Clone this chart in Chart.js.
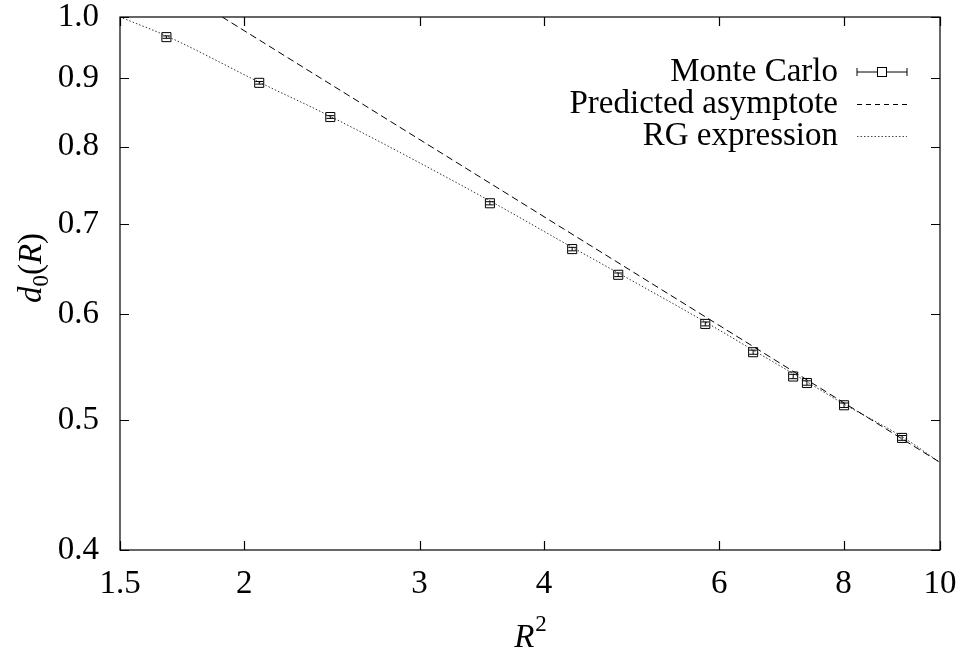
<!DOCTYPE html>
<html>
<head>
<meta charset="utf-8">
<script src="https://cdn.jsdelivr.net/npm/chart.js@4"></script>
<style>
  html, body { margin: 0; padding: 0; background: #fff; }
  #wrap { width: 962px; height: 654px; position: relative; }
</style>
</head>
<body>
<div id="wrap"><canvas id="chart"></canvas></div>
<script>
// Monte Carlo points (R^2, d0(R)) with tiny vertical errors
const mcX = [1.67, 2.07, 2.44, 3.53, 4.27, 4.75, 5.81, 6.49, 7.12, 7.35, 8.01, 9.16];
const mcY = [0.966, 0.893, 0.842, 0.726, 0.671, 0.642, 0.590, 0.562, 0.539, 0.533, 0.513, 0.485];
const mcErr = [0.002, 0.002, 0.002, 0.002, 0.002, 0.002, 0.002, 0.002, 0.002, 0.002, 0.002, 0.002];

// Predicted asymptote (straight in log-log)
const asymX = [1.90, 10];
const asymY = [1.0, 0.465];

// RG expression curve
const rgX = [1.51, 1.67, 2.07, 2.44, 3.53, 4.27, 4.75, 5.81, 6.49, 7.23, 8.01, 9.16, 10];
const rgY = [0.998, 0.968, 0.894, 0.843, 0.729, 0.673, 0.644, 0.592, 0.564, 0.538, 0.514, 0.486, 0.465];

// Axis ticks
const xTicks = [1.5, 2, 3, 4, 6, 8, 10];
const yTicks = [0.4, 0.5, 0.6, 0.7, 0.8, 0.9, 1.0];

const legendLabels = ['Monte Carlo', 'Predicted asymptote', 'RG expression'];

const FONT = "'Liberation Serif', 'DejaVu Serif', serif";
const FS = 33;

const toPts = (xs, ys) => xs.map((x, i) => ({ x: x, y: ys[i] }));

// Frame, inward ticks, error bars, legend and axis titles
const decorations = {
    id: 'decorations',
    afterDatasetsDraw(chart) {
        const ctx = chart.ctx;
        const xs = chart.scales.x, ys = chart.scales.y;
        const a = chart.chartArea;
        ctx.save();

        // error bars
        ctx.strokeStyle = '#000';
        ctx.lineWidth = 1;
        mcX.forEach((x, i) => {
            const px = xs.getPixelForValue(x);
            const top = ys.getPixelForValue(mcY[i] + mcErr[i]);
            const bot = ys.getPixelForValue(mcY[i] - mcErr[i]);
            ctx.beginPath();
            ctx.moveTo(px, top); ctx.lineTo(px, bot);
            ctx.moveTo(px - 4, top); ctx.lineTo(px + 4, top);
            ctx.moveTo(px - 4, bot); ctx.lineTo(px + 4, bot);
            ctx.stroke();
        });

        // frame
        ctx.lineWidth = 1.2;
        ctx.strokeRect(a.left, a.top, a.right - a.left, a.bottom - a.top);

        // inward ticks on all four sides
        const tl = 9;
        ctx.beginPath();
        xTicks.forEach(v => {
            const px = Math.round(xs.getPixelForValue(v)) + 0.5;
            ctx.moveTo(px, a.bottom); ctx.lineTo(px, a.bottom - tl);
            ctx.moveTo(px, a.top); ctx.lineTo(px, a.top + tl);
        });
        yTicks.forEach(v => {
            const py = Math.round(ys.getPixelForValue(v)) + 0.5;
            ctx.moveTo(a.left, py); ctx.lineTo(a.left + tl, py);
            ctx.moveTo(a.right, py); ctx.lineTo(a.right - tl, py);
        });
        ctx.stroke();

        // legend
        ctx.font = FS + 'px ' + FONT;
        ctx.fillStyle = '#000';
        ctx.textAlign = 'right';
        ctx.textBaseline = 'middle';
        const lx = 838, s0 = 857, s1 = 907;
        const rows = [72, 104, 136];
        legendLabels.forEach((t, i) => ctx.fillText(t, lx, rows[i]));

        ctx.lineWidth = 1;
        // Monte Carlo sample
        ctx.beginPath();
        ctx.moveTo(s0, rows[0]); ctx.lineTo(s1, rows[0]);
        ctx.moveTo(s0, rows[0] - 4); ctx.lineTo(s0, rows[0] + 4);
        ctx.moveTo(s1, rows[0] - 4); ctx.lineTo(s1, rows[0] + 4);
        ctx.stroke();
        ctx.fillStyle = '#fff';
        ctx.fillRect(877.5, rows[0] - 4.5, 9, 9);
        ctx.strokeRect(877.5, rows[0] - 4.5, 9, 9);
        // asymptote sample
        ctx.setLineDash([5, 4]);
        ctx.beginPath();
        ctx.moveTo(s0, rows[1] + 0.5); ctx.lineTo(s1, rows[1] + 0.5);
        ctx.stroke();
        // RG sample
        ctx.strokeStyle = '#444';
        ctx.setLineDash([1.5, 2]);
        ctx.beginPath();
        ctx.moveTo(s0, rows[2] + 0.5); ctx.lineTo(s1, rows[2] + 0.5);
        ctx.stroke();
        ctx.setLineDash([]);

        // x title: R^2
        ctx.fillStyle = '#000';
        ctx.textAlign = 'left';
        ctx.textBaseline = 'alphabetic';
        ctx.font = 'italic ' + FS + 'px ' + FONT;
        const rW = ctx.measureText('R').width;
        ctx.font = '23px ' + FONT;
        const twoW = ctx.measureText('2').width;
        let tx = (a.left + a.right) / 2 - (rW + twoW) / 2;
        ctx.font = 'italic ' + FS + 'px ' + FONT;
        ctx.fillText('R', tx, 647);
        ctx.font = '23px ' + FONT;
        ctx.fillText('2', tx + rW + 1, 631);

        // y title: d_0(R), rotated
        ctx.translate(41, 268);
        ctx.rotate(-Math.PI / 2);
        const parts = [
            { t: 'd', f: 'italic ' + FS + 'px ', dy: 0 },
            { t: '0', f: '23px ', dy: 7 },
            { t: '(', f: FS + 'px ', dy: 0 },
            { t: 'R', f: 'italic ' + FS + 'px ', dy: 0 },
            { t: ')', f: FS + 'px ', dy: 0 }
        ];
        let total = 0;
        parts.forEach(p => { ctx.font = p.f + FONT; p.w = ctx.measureText(p.t).width; total += p.w; });
        let cx = -total / 2;
        parts.forEach(p => {
            ctx.font = p.f + FONT;
            ctx.fillText(p.t, cx, p.dy);
            cx += p.w;
        });

        ctx.restore();
    }
};

new Chart(document.getElementById('chart'), {
    type: 'scatter',
    data: {
        datasets: [
            {
                label: 'Monte Carlo',
                data: toPts(mcX, mcY),
                pointStyle: 'rect',
                pointRadius: 6.4,
                borderColor: '#000',
                borderWidth: 1,
                backgroundColor: 'rgba(0,0,0,0)',
                showLine: false
            },
            {
                label: 'Predicted asymptote',
                data: toPts(asymX, asymY),
                showLine: true,
                borderColor: '#000',
                borderWidth: 1,
                borderDash: [7, 4],
                pointRadius: 0,
                fill: false
            },
            {
                label: 'RG expression',
                data: toPts(rgX, rgY),
                showLine: true,
                borderColor: '#333',
                borderWidth: 1,
                borderDash: [1.5, 2],
                pointRadius: 0,
                cubicInterpolationMode: 'monotone',
                fill: false
            }
        ]
    },
    options: {
        responsive: true,
        maintainAspectRatio: false,
        animation: false,
        layout: { padding: { left: 0, right: 22, top: 17, bottom: 0 } },
        plugins: { legend: { display: false }, tooltip: { enabled: false } },
        scales: {
            x: {
                type: 'logarithmic',
                min: 1.5,
                max: 10,
                afterBuildTicks: s => { s.ticks = xTicks.map(v => ({ value: v })); },
                afterFit: s => { s.height = 104; s.paddingLeft = 0; s.paddingRight = 0; },
                grid: { display: false, drawTicks: false },
                border: { display: false },
                ticks: {
                    color: '#000',
                    font: { family: FONT, size: FS },
                    padding: 15,
                    maxRotation: 0,
                    autoSkip: false,
                    callback: v => String(v)
                }
            },
            y: {
                type: 'logarithmic',
                min: 0.4,
                max: 1.0,
                afterBuildTicks: s => { s.ticks = yTicks.map(v => ({ value: v })); },
                afterFit: s => { s.width = 120; s.paddingTop = 0; s.paddingBottom = 0; },
                grid: { display: false, drawTicks: false },
                border: { display: false },
                ticks: {
                    color: '#000',
                    font: { family: FONT, size: FS },
                    padding: 21,
                    autoSkip: false,
                    callback: v => Number(v).toFixed(1)
                }
            }
        }
    },
    plugins: [decorations]
});
</script>
</body>
</html>
